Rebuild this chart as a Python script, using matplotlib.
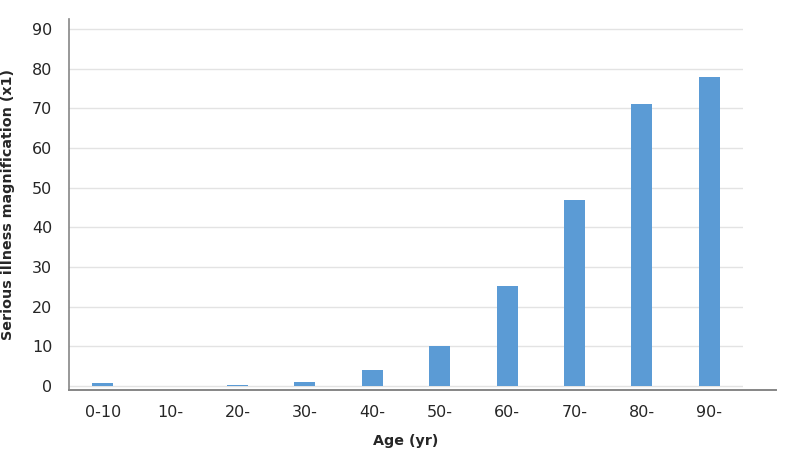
"""Bar chart: serious illness magnification by age group."""

import matplotlib
matplotlib.use('Agg')
import matplotlib.pyplot as plt
from matplotlib.lines import Line2D


# Data ------------------------------------------------------------------------

age_groups = ['0-10', '10-', '20-', '30-', '40-', '50-', '60-', '70-', '80-', '90-']
magnification = [0.7, 0.0, 0.3, 1.0, 4.1, 10.1, 25.1, 47.0, 71.0, 78.0]
y_ticks = [0, 10, 20, 30, 40, 50, 60, 70, 80, 90]

bar_color = '#5b9bd5'
axis_color = '#868686'
grid_color = '#e3e3e3'
text_color = '#262626'

# Figure ----------------------------------------------------------------------

W, H = 794, 461
fig = plt.figure(figsize=(W / 100, H / 100), dpi=100)
ax = fig.add_axes([69 / W, (H - 390) / H, (743 - 69) / W, (390 - 19) / H])

x = range(len(age_groups))
ax.bar(x, magnification, width=0.31, color=bar_color, zorder=3)

ax.set_xlim(-0.5, len(age_groups) - 0.5)
ax.set_ylim(-1.0, 92.5)

ax.set_yticks(y_ticks)
ax.set_xticks(list(x))
ax.set_xticklabels(age_groups)
ax.tick_params(axis='both', length=0, labelsize=11.5, colors=text_color)
ax.tick_params(axis='y', pad=12)
ax.tick_params(axis='x', pad=11)

ax.grid(axis='y', color=grid_color, linewidth=1.0, zorder=0)

for side in ('top', 'right', 'bottom'):
    ax.spines[side].set_visible(False)
ax.spines['left'].set_color(axis_color)
ax.spines['left'].set_linewidth(1.2)

# bottom axis line runs past the plot area (floor of the 3D-ish chart)
ax.add_line(Line2D([0, (776 - 69) / (743 - 69)], [0, 0], transform=ax.transAxes,
                   color=axis_color, linewidth=1.4, clip_on=False, zorder=4))

ax.set_ylabel('Serious illness magnification (x1)', fontsize=10.3,
              fontweight='bold', color=text_color, labelpad=12)
ax.set_xlabel('Age (yr)', fontsize=10.3, fontweight='bold', color=text_color,
              labelpad=10)

fig.savefig('out.png', dpi=100)
